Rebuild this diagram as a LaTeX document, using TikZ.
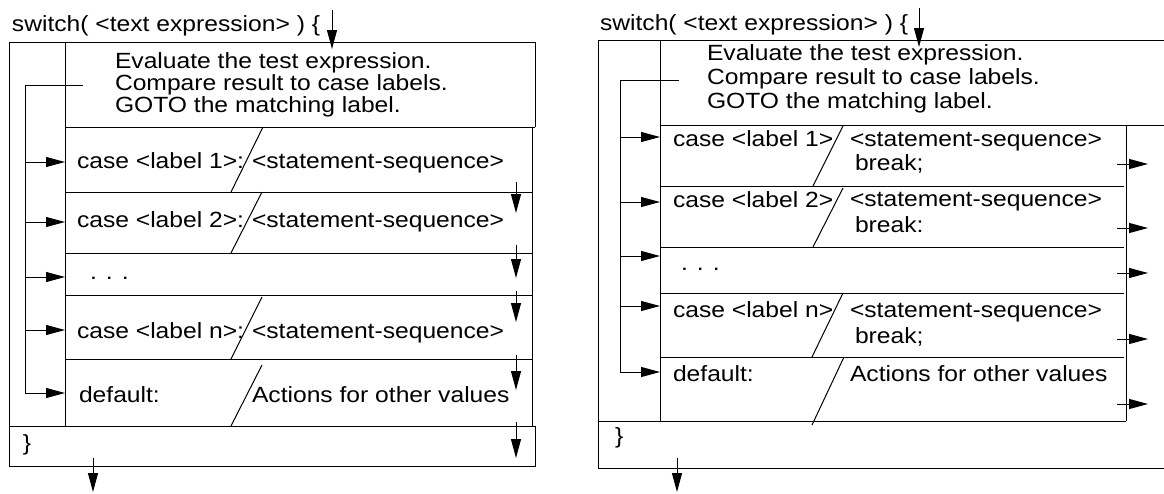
\documentclass[tikz,border=0pt]{standalone}
\usepackage{fontspec}
\setmainfont{Liberation Sans}[FakeStretch=1.12]
\usetikzlibrary{arrows.meta}
\newcommand\fsz{\fontsize{22}{24}\selectfont}
\tikzset{
  every node/.style={inner sep=0pt, outer sep=0pt},
  txt/.style={anchor=base west, font=\fsz},
  ln/.style={line width=1pt, line join=miter},
  arr/.style={line width=1pt, -{Triangle[length=19pt,width=10pt]}},
}
\begin{document}
\begin{tikzpicture}[x=1pt,y=-1pt]
\useasboundingbox (0,0) rectangle (1164,493);
% ================= LEFT DIAGRAM =================
\node[txt] (Lsw) at (12,31) {switch( <text expression> ) \{};
\coordinate (LinA) at (332,10); \coordinate (LinB) at (332,49);
\draw[arr] (LinA) -- (LinB);
% frame
\draw[ln] (535,127) -- (535,42) -- (9,42) -- (9,466) -- (535,466) -- (535,426);
\draw[ln] (65,42) -- (65,426);
\draw[ln] (65,127) -- (535,127);
\draw[ln] (532,127) -- (532,426);
\draw[ln] (9,426) -- (535,426);
\foreach \y in {192,253,295,359} \draw[ln] (65,\y) -- (532,\y);
% evaluate text
\node[txt] (Le1) at (115,68) {Evaluate the test expression.};
\node[txt] (Le2) at (115,90) {Compare result to case labels.};
\node[txt] (Le3) at (115,112) {GOTO the matching label.};
% dispatch lines
\coordinate (LdA) at (83,85); \coordinate (LdB) at (25,85); \coordinate (LdC) at (25,393);
\draw[ln] (LdA) -- (LdB) -- (LdC);
\foreach \y in {162,222,277,330,393} {
  \coordinate (Lsrc\y) at (25,\y); \coordinate (Ldst\y) at (65,\y);
  \draw[arr] (Lsrc\y) -- (Ldst\y);
}
% case labels
\node[txt] (Lc1) at (77,168) {case <label 1>:};
\node[txt] (Lc2) at (77,227) {case <label 2>:};
\node[txt] (Ldots) at (90,279) {. . .};
\node[txt] (Lcn) at (77,338) {case <label n>:};
\node[txt] (Ldef) at (79,402) {default:};
% slashes
\draw[ln] (231,192) -- (263,127);
\draw[ln] (231,253) -- (262,192);
\draw[ln] (231,359) -- (262,297);
\draw[ln] (231,426) -- (262,365);
% statements
\node[txt] (Ls1) at (252,168) {<statement-sequence>};
\node[txt] (Ls2) at (252,227) {<statement-sequence>};
\node[txt] (Lsn) at (252,338) {<statement-sequence>};
\node[txt] (Lsd) at (252,402) {Actions for other values};
% fall-through arrows
\foreach \a/\b in {182/213,245/278,291/322,355/390,422/458} {
  \coordinate (Lfa\a) at (516,\a); \coordinate (Lfb\a) at (516,\b);
  \draw[arr] (Lfa\a) -- (Lfb\a);
}
\node[txt] (Lend) at (23,450) {\}};
\coordinate (LoutA) at (93,458); \coordinate (LoutB) at (93,492);
\draw[arr] (LoutA) -- (LoutB);
% ================= RIGHT DIAGRAM =================
\node[txt] (Rsw) at (600,30) {switch( <text expression> ) \{};
\coordinate (RinA) at (919,8); \coordinate (RinB) at (919,47);
\draw[arr] (RinA) -- (RinB);
\draw[ln] (1164,40) -- (598,40) -- (598,468) -- (1164,468);
\draw[ln] (660,40) -- (660,421);
\draw[ln] (660,125) -- (1164,125);
\draw[ln] (1126,125) -- (1126,421);
\draw[ln] (598,421) -- (1126,421);
\foreach \y in {186,247,293,357} \draw[ln] (660,\y) -- (1124,\y);
\node[txt] (Re1) at (707,60) {Evaluate the test expression.};
\node[txt] (Re2) at (707,84) {Compare result to case labels.};
\node[txt] (Re3) at (707,108) {GOTO the matching label.};
\coordinate (RdA) at (679,80); \coordinate (RdB) at (620,80); \coordinate (RdC) at (620,372);
\draw[ln] (RdA) -- (RdB) -- (RdC);
\foreach \y in {137,202,256,306,372} {
  \coordinate (Rsrc\y) at (620,\y); \coordinate (Rdst\y) at (660,\y);
  \draw[arr] (Rsrc\y) -- (Rdst\y);
}
\node[txt] (Rc1) at (673,146) {case <label 1>};
\node[txt] (Rc2) at (673,207) {case <label 2>};
\node[txt] (Rdots) at (681,270) {. . .};
\node[txt] (Rcn) at (673,317) {case <label n>};
\node[txt] (Rdef) at (673,381) {default:};
\draw[ln] (813,186) -- (843,126);
\draw[ln] (813,247) -- (843,188);
\draw[ln] (812,357) -- (843,293);
\draw[ln] (812,425) -- (844,357);
\node[txt] (Rs1) at (850,146) {<statement-sequence>};
\node[txt] (Rb1) at (855,170) {break;};
\node[txt] (Rs2) at (850,206) {<statement-sequence>};
\node[txt] (Rb2) at (855,232) {break:};
\node[txt] (Rsn) at (850,317) {<statement-sequence>};
\node[txt] (Rbn) at (855,343) {break;};
\node[txt] (Rsd) at (850,381) {Actions for other values};
\foreach \y in {164,228,273,339,404} {
  \coordinate (Rxa\y) at (1117,\y); \coordinate (Rxb\y) at (1148,\y);
  \draw[arr] (Rxa\y) -- (Rxb\y);
}
\node[txt] (Rend) at (615,443) {\}};
\coordinate (RoutA) at (677,458); \coordinate (RoutB) at (677,492);
\draw[arr] (RoutA) -- (RoutB);
\end{tikzpicture}
\end{document}
